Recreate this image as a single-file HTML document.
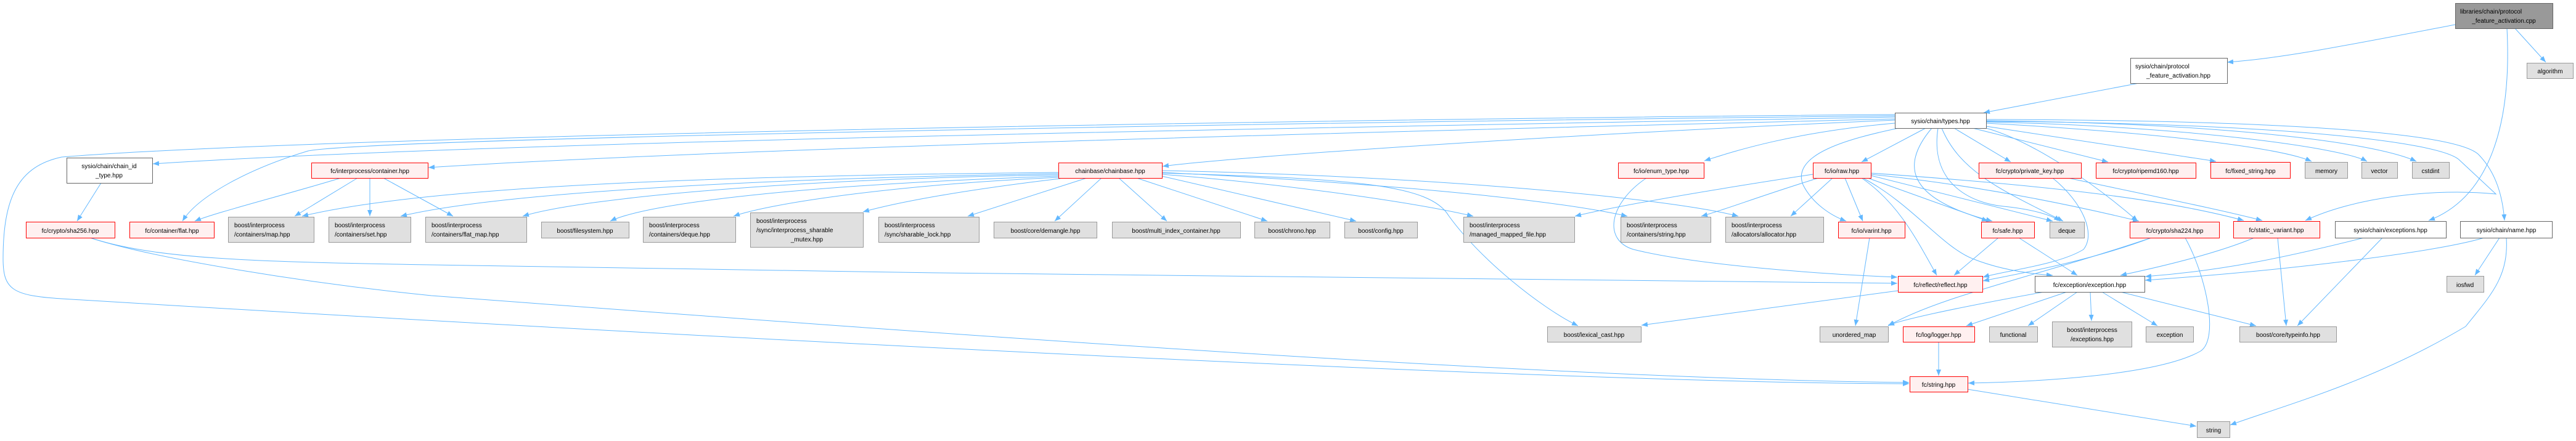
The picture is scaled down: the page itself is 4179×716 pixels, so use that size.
<!DOCTYPE html>
<html><head><meta charset="utf-8"><style>
html,body{margin:0;padding:0;background:#fff;}
svg{display:block;font-family:"Liberation Sans",Arial,sans-serif;font-size:10px;}
.e{fill:none;stroke:#63b8ff;stroke-width:1;marker-end:url(#a);}
.r{fill:#fff0f0;stroke:#ff0000;}
.g{fill:#e0e0e0;stroke:#999;}
.w{fill:#fff;stroke:#666;}
.m{fill:#999;stroke:#666;}
text{fill:#000;}
</style></head><body>
<svg width="4179" height="716" viewBox="0 0 4179 716" xmlns="http://www.w3.org/2000/svg">
<defs><marker id="a" markerUnits="userSpaceOnUse" markerWidth="10" markerHeight="8" refX="10" refY="4" orient="auto"><path d="M0,0 L10,4 L0,8 z" fill="#63b8ff"/></marker></defs>
<g>
<path class="e" d="M3983,40 C3800,75 3700,95 3613,101"/>
<path class="e" d="M4080,46 L4130,101"/>
<path class="e" d="M4067,46 C4075,200 4040,320 3940,358"/>
<path class="e" d="M3470,135 L3218,183"/>
<path class="e" d="M3074,190 C2000,210 800,230 248,266"/>
<path class="e" d="M3074,193 C2200,215 1200,240 695,272"/>
<path class="e" d="M3074,188 C2000,200 600,225 500,245 C400,275 320,320 296,359"/>
<path class="e" d="M3074,186 C2500,190 600,215 100,255 C30,270 5,320 5,420 C5,470 20,480 100,485 C1000,540 2500,622 3097,623"/>
<path class="e" d="M146,386 C250,420 400,425 700,430 C1500,445 2500,455 3078,460"/>
<path class="e" d="M146,386 C250,420 500,460 700,480 C1500,540 2500,615 3097,621"/>
<path class="e" d="M164,297 L125,359"/>
<path class="e" d="M553,289 C450,320 350,345 316,359"/>
<path class="e" d="M580,289 L478,351"/>
<path class="e" d="M600,289 L600,351"/>
<path class="e" d="M622,289 L735,351"/>
<path class="e" d="M1717,280 C1200,285 700,300 490,351"/>
<path class="e" d="M1717,282 C1200,290 800,315 650,351"/>
<path class="e" d="M1717,284 C1300,290 950,320 848,351"/>
<path class="e" d="M1717,286 C1300,300 1050,330 990,359"/>
<path class="e" d="M1717,288 C1450,300 1250,330 1190,351"/>
<path class="e" d="M1720,290 C1550,310 1450,330 1400,344"/>
<path class="e" d="M1763,289 L1570,351"/>
<path class="e" d="M1787,289 L1711,359"/>
<path class="e" d="M1815,289 L1893,359"/>
<path class="e" d="M1844,289 L2056,359"/>
<path class="e" d="M1885,286 L2200,359"/>
<path class="e" d="M1885,283 C2100,300 2300,330 2390,351"/>
<path class="e" d="M1885,280 C2200,295 2500,320 2640,351"/>
<path class="e" d="M1885,277 C2300,285 2700,320 2820,351"/>
<path class="e" d="M1885,281 C2200,290 2320,300 2350,350 C2400,420 2500,500 2560,529"/>
<path class="e" d="M3074,195 C2500,220 2000,255 1886,270"/>
<path class="e" d="M3074,200 C2900,215 2800,250 2765,261"/>
<path class="e" d="M3124,208 L3020,263"/>
<path class="e" d="M3080,208 C3000,225 2905,250 2925,300 C2940,330 2970,350 2995,359"/>
<path class="e" d="M3134,208 C3090,260 3080,320 3232,359"/>
<path class="e" d="M3144,208 C3130,300 3200,330 3250,335 C3300,340 3330,350 3342,359"/>
<path class="e" d="M3150,208 C3180,280 3250,310 3347,359"/>
<path class="e" d="M3170,208 L3262,263"/>
<path class="e" d="M3200,208 L3420,263"/>
<path class="e" d="M3222,205 L3595,262"/>
<path class="e" d="M3222,200 C3500,215 3700,240 3750,262"/>
<path class="e" d="M3222,198 C3550,205 3800,240 3840,262"/>
<path class="e" d="M3222,196 C3600,200 3850,230 3920,262"/>
<path class="e" d="M3222,194 C3700,195 3980,215 4020,250 C4050,280 4060,320 4063,358"/>
<path class="e" d="M3222,197 C3700,200 3960,230 3990,260 L4049,315 C3950,305 3820,320 3740,358"/>
<path class="e" d="M3222,208 C3300,230 3400,300 3468,359"/>
<path class="e" d="M2973,289 L2905,351"/>
<path class="e" d="M2993,289 L3022,359"/>
<path class="e" d="M3020,289 C3080,330 3110,390 3142,447"/>
<path class="e" d="M3030,289 L3225,359"/>
<path class="e" d="M3022,289 C3100,330 3150,400 3200,420 C3250,440 3300,445 3330,447"/>
<path class="e" d="M2941,283 C2700,320 2600,340 2555,351"/>
<path class="e" d="M2950,289 C2850,320 2800,340 2760,351"/>
<path class="e" d="M3035,283 C3200,300 3350,330 3470,359"/>
<path class="e" d="M3035,281 C3300,300 3500,320 3640,358"/>
<path class="e" d="M3035,285 L3330,359"/>
<path class="e" d="M3033,386 L3010,529"/>
<path class="e" d="M3242,386 L3170,447"/>
<path class="e" d="M3275,386 L3370,447"/>
<path class="e" d="M3330,289 C3380,330 3400,380 3380,405 C3340,430 3250,440 3217,450"/>
<path class="e" d="M3355,289 C3500,320 3600,340 3670,358"/>
<path class="e" d="M3490,386 C3400,420 3300,440 3217,456"/>
<path class="e" d="M3490,386 C3300,450 3150,480 3063,529"/>
<path class="e" d="M3545,386 C3580,450 3600,550 3570,570 C3500,610 3300,620 3193,622"/>
<path class="e" d="M3657,386 C3600,410 3520,430 3440,447"/>
<path class="e" d="M3695,386 L3709,529"/>
<path class="e" d="M3835,386 C3700,420 3600,440 3480,449"/>
<path class="e" d="M3865,386 L3727,529"/>
<path class="e" d="M4030,386 C3950,410 3700,440 3480,455"/>
<path class="e" d="M4055,386 L4015,447"/>
<path class="e" d="M4066,386 C4070,450 4040,480 4000,530 C3850,620 3700,660 3618,690"/>
<path class="e" d="M3316,474 C3200,495 3100,515 3063,528"/>
<path class="e" d="M3353,474 L3190,529"/>
<path class="e" d="M3370,474 L3290,529"/>
<path class="e" d="M3391,474 L3393,521"/>
<path class="e" d="M3410,474 L3500,529"/>
<path class="e" d="M3440,474 L3660,529"/>
<path class="e" d="M3145,555 L3145,610"/>
<path class="e" d="M3192,632 L3563,692"/>
<path class="e" d="M3079,472 L2663,528"/>
<path class="e" d="M2671,289 C2610,330 2600,390 2650,405 C2750,430 2950,445 3078,450"/>
</g>
<g>
<rect class="m" x="3983.5" y="5.5" width="158" height="41"/><text x="3991" y="22">libraries/chain/protocol</text><text x="4062" y="37" text-anchor="middle">_feature_activation.cpp</text>
<rect class="w" x="3456.5" y="94.5" width="157" height="41"/><text x="3464" y="111">sysio/chain/protocol</text><text x="3534" y="126" text-anchor="middle">_feature_activation.hpp</text>
<rect class="g" x="4099.5" y="102.5" width="75" height="25"/><text x="4137" y="119" text-anchor="middle">algorithm</text>
<rect class="w" x="3074.5" y="183.5" width="148" height="25"/><text x="3148" y="200" text-anchor="middle">sysio/chain/types.hpp</text>
<rect class="w" x="108.5" y="256.5" width="139" height="41"/><text x="177" y="273" text-anchor="middle">sysio/chain/chain_id</text><text x="177" y="288" text-anchor="middle">_type.hpp</text>
<rect class="r" x="505.5" y="264.5" width="189" height="25"/><text x="600" y="281" text-anchor="middle">fc/interprocess/container.hpp</text>
<rect class="r" x="1717.5" y="264.5" width="168" height="25"/><text x="1801" y="281" text-anchor="middle">chainbase/chainbase.hpp</text>
<rect class="r" x="2625.5" y="264.5" width="139" height="25"/><text x="2695" y="281" text-anchor="middle">fc/io/enum_type.hpp</text>
<rect class="r" x="2941.5" y="264.5" width="94" height="25"/><text x="2988" y="281" text-anchor="middle">fc/io/raw.hpp</text>
<rect class="r" x="3210.5" y="264.5" width="166" height="25"/><text x="3293" y="281" text-anchor="middle">fc/crypto/private_key.hpp</text>
<rect class="r" x="3400.5" y="264.5" width="162" height="25"/><text x="3481" y="281" text-anchor="middle">fc/crypto/ripemd160.hpp</text>
<rect class="r" x="3586.5" y="263.5" width="129" height="26"/><text x="3651" y="281" text-anchor="middle">fc/fixed_string.hpp</text>
<rect class="g" x="3739.5" y="263.5" width="69" height="26"/><text x="3774" y="281" text-anchor="middle">memory</text>
<rect class="g" x="3831.5" y="263.5" width="58" height="26"/><text x="3860" y="281" text-anchor="middle">vector</text>
<rect class="g" x="3913.5" y="263.5" width="60" height="26"/><text x="3943" y="281" text-anchor="middle">cstdint</text>
<rect class="r" x="42.5" y="360.5" width="144" height="26"/><text x="114" y="378" text-anchor="middle">fc/crypto/sha256.hpp</text>
<rect class="r" x="210.5" y="360.5" width="137" height="26"/><text x="279" y="378" text-anchor="middle">fc/container/flat.hpp</text>
<rect class="g" x="370.5" y="352.5" width="139" height="41"/><text x="380" y="369">boost/interprocess</text><text x="380" y="384">/containers/map.hpp</text>
<rect class="g" x="533.5" y="352.5" width="133" height="41"/><text x="543" y="369">boost/interprocess</text><text x="543" y="384">/containers/set.hpp</text>
<rect class="g" x="690.5" y="352.5" width="164" height="41"/><text x="700" y="369">boost/interprocess</text><text x="700" y="384">/containers/flat_map.hpp</text>
<rect class="g" x="878.5" y="360.5" width="142" height="26"/><text x="949" y="378" text-anchor="middle">boost/filesystem.hpp</text>
<rect class="g" x="1043.5" y="352.5" width="150" height="41"/><text x="1053" y="369">boost/interprocess</text><text x="1053" y="384">/containers/deque.hpp</text>
<rect class="g" x="1217.5" y="345.5" width="183" height="56"/><text x="1227" y="362">boost/interprocess</text><text x="1227" y="377">/sync/interprocess_sharable</text><text x="1309" y="392" text-anchor="middle">_mutex.hpp</text>
<rect class="g" x="1425.5" y="352.5" width="163" height="41"/><text x="1435" y="369">boost/interprocess</text><text x="1435" y="384">/sync/sharable_lock.hpp</text>
<rect class="g" x="1612.5" y="360.5" width="167" height="26"/><text x="1696" y="378" text-anchor="middle">boost/core/demangle.hpp</text>
<rect class="g" x="1804.5" y="360.5" width="208" height="26"/><text x="1908" y="378" text-anchor="middle">boost/multi_index_container.hpp</text>
<rect class="g" x="2035.5" y="360.5" width="122" height="26"/><text x="2096" y="378" text-anchor="middle">boost/chrono.hpp</text>
<rect class="g" x="2181.5" y="360.5" width="118" height="26"/><text x="2240" y="378" text-anchor="middle">boost/config.hpp</text>
<rect class="g" x="2374.5" y="352.5" width="180" height="41"/><text x="2384" y="369">boost/interprocess</text><text x="2384" y="384">/managed_mapped_file.hpp</text>
<rect class="g" x="2629.5" y="352.5" width="146" height="41"/><text x="2639" y="369">boost/interprocess</text><text x="2639" y="384">/containers/string.hpp</text>
<rect class="g" x="2799.5" y="352.5" width="159" height="41"/><text x="2809" y="369">boost/interprocess</text><text x="2809" y="384">/allocators/allocator.hpp</text>
<rect class="r" x="2982.5" y="360.5" width="108" height="26"/><text x="3036" y="378" text-anchor="middle">fc/io/varint.hpp</text>
<rect class="r" x="3214.5" y="360.5" width="86" height="26"/><text x="3257" y="378" text-anchor="middle">fc/safe.hpp</text>
<rect class="g" x="3325.5" y="360.5" width="56" height="26"/><text x="3353" y="378" text-anchor="middle">deque</text>
<rect class="r" x="3455.5" y="360.5" width="145" height="26"/><text x="3528" y="378" text-anchor="middle">fc/crypto/sha224.hpp</text>
<rect class="r" x="3623.5" y="359.5" width="140" height="27"/><text x="3693" y="377" text-anchor="middle">fc/static_variant.hpp</text>
<rect class="w" x="3788.5" y="359.5" width="180" height="27"/><text x="3878" y="377" text-anchor="middle">sysio/chain/exceptions.hpp</text>
<rect class="w" x="3991.5" y="359.5" width="149" height="27"/><text x="4066" y="377" text-anchor="middle">sysio/chain/name.hpp</text>
<rect class="r" x="3079.5" y="448.5" width="137" height="26"/><text x="3148" y="466" text-anchor="middle">fc/reflect/reflect.hpp</text>
<rect class="w" x="3301.5" y="448.5" width="178" height="26"/><text x="3390" y="466" text-anchor="middle">fc/exception/exception.hpp</text>
<rect class="g" x="3969.5" y="448.5" width="60" height="26"/><text x="3999" y="466" text-anchor="middle">iosfwd</text>
<rect class="g" x="2510.5" y="530.5" width="152" height="25"/><text x="2586" y="547" text-anchor="middle">boost/lexical_cast.hpp</text>
<rect class="g" x="2952.5" y="530.5" width="111" height="25"/><text x="3008" y="547" text-anchor="middle">unordered_map</text>
<rect class="r" x="3087.5" y="530.5" width="116" height="25"/><text x="3145" y="547" text-anchor="middle">fc/log/logger.hpp</text>
<rect class="g" x="3227.5" y="530.5" width="78" height="25"/><text x="3266" y="547" text-anchor="middle">functional</text>
<rect class="g" x="3329.5" y="522.5" width="129" height="41"/><text x="3394" y="539" text-anchor="middle">boost/interprocess</text><text x="3394" y="554" text-anchor="middle">/exceptions.hpp</text>
<rect class="g" x="3481.5" y="530.5" width="77" height="25"/><text x="3520" y="547" text-anchor="middle">exception</text>
<rect class="g" x="3633.5" y="530.5" width="157" height="25"/><text x="3712" y="547" text-anchor="middle">boost/core/typeinfo.hpp</text>
<rect class="r" x="3098.5" y="611.5" width="94" height="25"/><text x="3145" y="628" text-anchor="middle">fc/string.hpp</text>
<rect class="g" x="3564.5" y="684.5" width="53" height="26"/><text x="3591" y="702" text-anchor="middle">string</text>
</g>
</svg>
</body></html>
